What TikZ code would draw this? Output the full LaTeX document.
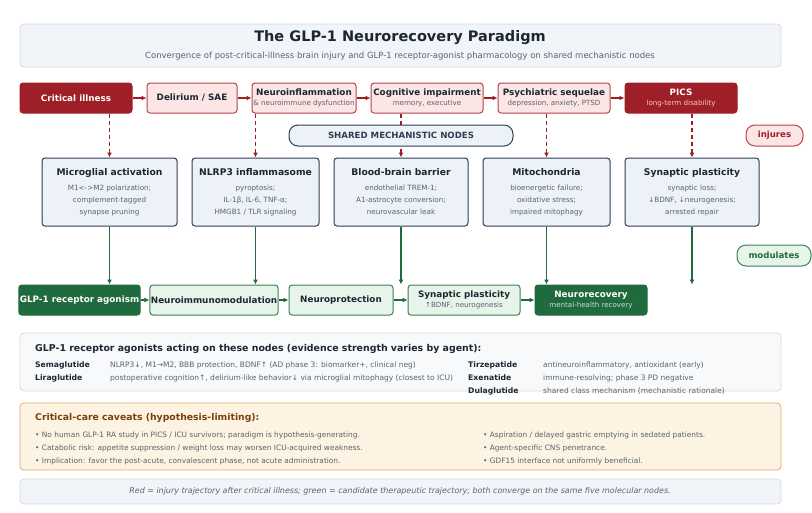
\documentclass[tikz,border=0pt]{standalone}
\usepackage{fontspec}
\setmainfont{DejaVu Sans}
\usetikzlibrary{arrows.meta,calc,positioning}

\definecolor{injred}{HTML}{9E1F27}
\definecolor{injpink}{HTML}{FCE5E5}
\definecolor{injline}{HTML}{B8434B}
\definecolor{injsub}{HTML}{F4C9CB}
\definecolor{recgreen}{HTML}{1F6B3D}
\definecolor{recpale}{HTML}{E6F4EA}
\definecolor{recline}{HTML}{3F7F58}
\definecolor{recsub}{HTML}{C4E3CE}
\definecolor{nodeblue}{HTML}{EDF2F9}
\definecolor{nodeline}{HTML}{2F3E4F}
\definecolor{inkdark}{HTML}{1D2733}
\definecolor{inkgray}{HTML}{5A636C}
\definecolor{titlebg}{HTML}{F1F5F9}
\definecolor{panelbg}{HTML}{F8F9FA}
\definecolor{panelline}{HTML}{D6DBE0}
\definecolor{cavbg}{HTML}{FDF3E2}
\definecolor{cavline}{HTML}{E2AA60}
\definecolor{cavhead}{HTML}{7B3F0C}

\newcommand{\subtxt}[1]{{\fontsize{7.1}{10}\selectfont\mdseries #1}}

\begin{document}
\begin{tikzpicture}[x=1pt,y=-1pt,align=center]
\tikzstyle{box}=[rectangle,rounded corners=3pt,line width=1pt,inner sep=1pt]
\tikzstyle{injdark}=[box,fill=injred,draw=injred,text=white,minimum height=30pt,font=\fontsize{8.8}{10.5}\selectfont\bfseries]
\tikzstyle{injlight}=[box,fill=injpink,draw=injline,text=inkdark,minimum height=30pt,font=\fontsize{8.8}{10.5}\selectfont\bfseries]
\tikzstyle{mech}=[box,fill=nodeblue,draw=nodeline,text=inkgray,minimum height=68pt,font=\fontsize{7.2}{12}\selectfont]
\tikzstyle{recdark}=[box,fill=recgreen,draw=recgreen,text=white,minimum height=30pt,font=\fontsize{8.8}{10.5}\selectfont\bfseries]
\tikzstyle{reclight}=[box,fill=recpale,draw=recline,text=inkdark,minimum height=30pt,font=\fontsize{8.8}{10.5}\selectfont\bfseries]
\tikzstyle{pill}=[rectangle,rounded corners=9pt,line width=1pt,minimum height=21pt,font=\fontsize{8.6}{10}\selectfont\bfseries]
\tikzstyle{panel}=[rounded corners=4pt,line width=0.8pt]
\tikzstyle{harm}=[-{Latex[length=5pt,width=5pt]},injred,line width=1.3pt]
\tikzstyle{harmdash}=[harm,dash pattern=on 4.5pt off 2.5pt]
\tikzstyle{heal}=[-{Latex[length=5pt,width=5pt]},recgreen,line width=1.3pt]
\tikzstyle{agent}=[anchor=west,inner sep=0pt,text height=6pt,text depth=1.8pt,font=\fontsize{7.7}{9}\selectfont\bfseries,text=inkdark]
\tikzstyle{effect}=[anchor=west,inner sep=0pt,text height=6pt,text depth=1.8pt,font=\fontsize{7.5}{9}\selectfont,text=inkgray]
\tikzstyle{caveat}=[anchor=west,inner sep=0pt,text height=6pt,text depth=1.8pt,font=\fontsize{7.4}{9}\selectfont,text=inkgray]

\useasboundingbox (0,0) rectangle (812,512);

% header
\draw[panel,fill=titlebg,draw=panelline] (20,24) rectangle (781,67);
\node[font=\fontsize{14.5}{16}\selectfont\bfseries,text=inkdark] (title) at (400,38) {The GLP-1 Neurorecovery Paradigm};
\node[font=\fontsize{8.5}{9}\selectfont,text=inkgray] (subtitle) at (400,56) {Convergence of post-critical-illness brain injury and GLP-1 receptor-agonist pharmacology on shared mechanistic nodes};

% injury trajectory
\node[injdark,minimum width=112pt] (crit) at (76,98) {Critical illness};
\node[injlight,minimum width=90pt] (delir) at (192,98) {Delirium / SAE};
\node[injlight,minimum width=104pt] (neuroinf) at (304,98) {Neuroinflammation\\\subtxt{\color{inkgray}\& neuroimmune dysfunction}};
\node[injlight,minimum width=112pt] (cogn) at (427,98) {Cognitive impairment\\\subtxt{\color{inkgray}memory, executive}};
\node[injlight,minimum width=112pt] (psych) at (554,98) {Psychiatric sequelae\\\subtxt{\color{inkgray}depression, anxiety, PTSD}};
\node[injdark,minimum width=112pt] (pics) at (681,98) {PICS\\\subtxt{\color{injsub}long-term disability}};

\draw[harm] (crit) -- (delir);
\draw[harm] (delir) -- (neuroinf);
\draw[harm] (neuroinf) -- (cogn);
\draw[harm] (cogn) -- (psych);
\draw[harm] (psych) -- (pics);

% shared mechanistic nodes
\node[mech,minimum width=135pt] (micro) at (109.5,192) {\textcolor{inkdark}{\fontsize{9.2}{12}\selectfont\bfseries Microglial activation}\\[3pt]M1<->M2 polarization;\\complement-tagged\\synapse pruning};
\node[mech,minimum width=127pt] (nlrp) at (255.5,192) {\textcolor{inkdark}{\fontsize{9.2}{12}\selectfont\bfseries NLRP3 inflammasome}\\[3pt]pyroptosis;\\IL-1β, IL-6, TNF-α;\\HMGB1 / TLR signaling};
\node[mech,minimum width=134pt] (bbb) at (401,192) {\textcolor{inkdark}{\fontsize{9.2}{12}\selectfont\bfseries Blood-brain barrier}\\[3pt]endothelial TREM-1;\\A1-astrocyte conversion;\\neurovascular leak};
\node[mech,minimum width=127pt] (mito) at (546.5,192) {\textcolor{inkdark}{\fontsize{9.2}{12}\selectfont\bfseries Mitochondria}\\[3pt]bioenergetic failure;\\oxidative stress;\\impaired mitophagy};
\node[mech,minimum width=134pt] (synap) at (692,192) {\textcolor{inkdark}{\fontsize{9.2}{12}\selectfont\bfseries Synaptic plasticity}\\[3pt]synaptic loss;\\↓BDNF, ↓neurogenesis;\\arrested repair};

\draw[harmdash] (crit.south -| micro.north) -- (micro.north);
\draw[harmdash] (neuroinf.south -| nlrp.north) -- (nlrp.north);
\draw[harmdash] (cogn.south -| bbb.north) -- (bbb.north);
\draw[harmdash] (psych.south -| mito.north) -- (mito.north);
\draw[harmdash] (pics.south -| synap.north) -- (synap.north);

\node[pill,fill=nodeblue,draw=nodeline,text=nodeline,minimum width=224pt] (shared) at (401,135.5) {SHARED MECHANISTIC NODES};
\node[pill,fill=injpink,draw=injline,text=injred,minimum width=57pt] (injures) at (774.5,135.5) {injures};
\node[pill,fill=recpale,draw=recline,text=recgreen,minimum width=74pt] (modulates) at (774,255.5) {modulates};

% therapeutic trajectory
\node[recdark,minimum width=119pt] (glp) at (79.5,300) {GLP-1 receptor agonism};
\node[reclight,minimum width=120pt] (immuno) at (214,300) {Neuroimmunomodulation};
\node[reclight,minimum width=104pt] (protect) at (341,300) {Neuroprotection};
\node[reclight,minimum width=112pt] (plast) at (464,300) {Synaptic plasticity\\\subtxt{\color{inkgray}↑BDNF, neurogenesis}};
\node[recdark,minimum width=112pt] (recov) at (591,300) {Neurorecovery\\\subtxt{\color{recsub}mental-health recovery}};

\draw[heal] (glp) -- (immuno);
\draw[heal] (immuno) -- (protect);
\draw[heal] (protect) -- (plast);
\draw[heal] (plast) -- (recov);

\draw[heal] (micro.south) -- (micro.south |- glp.north);
\draw[heal] (nlrp.south) -- (nlrp.south |- immuno.north);
\draw[heal] (bbb.south) -- (bbb.south |- protect.north);
\draw[heal] (mito.south) -- (mito.south |- recov.north);
\draw[heal] (synap.south) -- (synap.south |- recov.north);

% agonist panel
\draw[panel,fill=panelbg,draw=panelline] (20,333) rectangle (781,391);
\node[anchor=west,inner sep=0pt,font=\fontsize{9.4}{10}\selectfont\bfseries,text=inkdark] (aghead) at (35,349) {GLP-1 receptor agonists acting on these nodes (evidence strength varies by agent):};
\node[agent] (sema) at (35,365) {Semaglutide};
\node[effect] (semafx) at (110,365) {NLRP3↓, M1→M2, BBB protection, BDNF↑ (AD phase 3: biomarker+, clinical neg)};
\node[agent] (lira) at (35,378) {Liraglutide};
\node[effect] (lirafx) at (110,378) {postoperative cognition↑, delirium-like behavior↓ via microglial mitophagy (closest to ICU)};
\node[agent] (tirz) at (468,365) {Tirzepatide};
\node[effect] (tirzfx) at (543,365) {antineuroinflammatory, antioxidant (early)};
\node[agent] (exen) at (468,378) {Exenatide};
\node[effect] (exenfx) at (543,378) {immune-resolving; phase 3 PD negative};
\node[agent] (dula) at (468,391) {Dulaglutide};
\node[effect] (dulafx) at (543,391) {shared class mechanism (mechanistic rationale)};

% caveats panel
\draw[panel,fill=cavbg,draw=cavline] (20,403) rectangle (781,470);
\node[anchor=west,inner sep=0pt,font=\fontsize{9.3}{10}\selectfont\bfseries,text=cavhead] (cavhead) at (35,418) {Critical-care caveats (hypothesis-limiting):};
\node[caveat] (cav1) at (35,435) {• No human GLP-1 RA study in PICS / ICU survivors; paradigm is hypothesis-generating.};
\node[caveat] (cav2) at (35,448) {• Catabolic risk: appetite suppression / weight loss may worsen ICU-acquired weakness.};
\node[caveat] (cav3) at (35,461) {• Implication: favor the post-acute, convalescent phase, not acute administration.};
\node[caveat] (cav4) at (483,435) {• Aspiration / delayed gastric emptying in sedated patients.};
\node[caveat] (cav5) at (483,448) {• Agent-specific CNS penetrance.};
\node[caveat] (cav6) at (483,461) {• GDF15 interface not uniformly beneficial.};

% footer
\draw[panel,fill=titlebg,draw=panelline] (20,479) rectangle (781,504);
\node[font=\fontsize{7.95}{9}\selectfont\itshape,text=inkgray] (footer) at (400,491.5) {Red = injury trajectory after critical illness; green = candidate therapeutic trajectory; both converge on the same five molecular nodes.};
\end{tikzpicture}
\end{document}
